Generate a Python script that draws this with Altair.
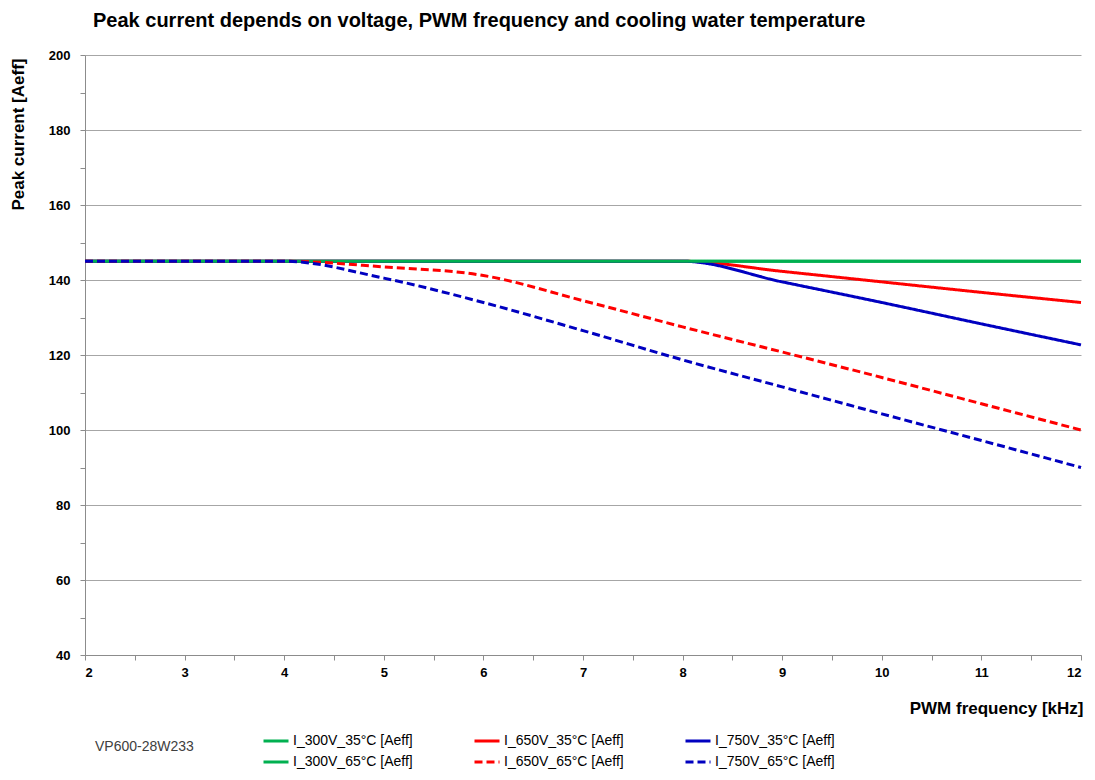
import altair as alt
import pandas as pd

FONT = "Liberation Sans, Arial, sans-serif"

freq = [2, 3, 4, 5, 6, 7, 8, 9, 10, 11, 12]
i_300_35 = [145, 145, 145, 145, 145, 145, 145, 145, 145, 145, 145]
i_650_35 = [145, 145, 145, 145, 145, 145, 145, 142.3, 139.5, 136.7, 134]
i_750_35 = [145, 145, 145, 145, 145, 145, 145, 139.5, 134, 128.3, 122.7]
i_300_65 = [145, 145, 145, 145, 145, 145, 145, 145, 145, 145, 145]
i_650_65 = [145, 145, 145, 143.5, 141.2, 134.5, 127.5, 120.8, 114, 107, 100]
i_750_65 = [145, 145, 145, 140.5, 134, 126.5, 118.7, 111.5, 104.3, 97.2, 90]

series_names = [
    "I_300V_35°C [Aeff]", "I_650V_35°C [Aeff]", "I_750V_35°C [Aeff]",
    "I_300V_65°C [Aeff]", "I_650V_65°C [Aeff]", "I_750V_65°C [Aeff]",
]
series_values = [i_300_35, i_650_35, i_750_35, i_300_65, i_650_65, i_750_65]
series_colors = ["#00B050", "#FF0000", "#0000C0", "#00B050", "#FF0000", "#0000C0"]
series_dashes = [[1, 0], [1, 0], [1, 0], [1, 0], [8, 4], [8, 4]]

x_ticks = [2, 2.5, 3, 3.5, 4, 4.5, 5, 5.5, 6, 6.5, 7, 7.5, 8, 8.5, 9, 9.5, 10, 10.5, 11, 11.5, 12]
y_ticks = [40, 50, 60, 70, 80, 90, 100, 110, 120, 130, 140, 150, 160, 170, 180, 190, 200]

rows = []
for k, (name, vals) in enumerate(zip(series_names, series_values)):
    for f, v in zip(freq, vals):
        rows.append({"freq": f, "current": v, "series": name, "order": k})
df = pd.DataFrame(rows)

W, H = 996, 600

lines = alt.Chart(df).mark_line(strokeWidth=3, interpolate="monotone").encode(
    x=alt.X(
        "freq:Q",
        scale=alt.Scale(domain=[2, 12], nice=False, zero=False),
        axis=alt.Axis(
            values=x_ticks,
            labelExpr="datum.value % 1 == 0 ? format(datum.value, 'd') : ''",
            grid=False,
            tickSize=5,
            tickColor="#8c8c8c",
            domainColor="#8c8c8c",
            labelFont=FONT,
            labelFontWeight="bold",
            labelFontSize=13,
            labelColor="#000000",
            labelPadding=6,
            title="PWM frequency [kHz]",
            titleFont=FONT,
            titleFontSize=17,
            titleFontWeight="bold",
            titleColor="#000000",
            titleAnchor="end",
            titleAlign="right",
            titleBaseline="middle",
            titleX=998,
            titleY=53,
        ),
    ),
    y=alt.Y(
        "current:Q",
        scale=alt.Scale(domain=[40, 200], nice=False, zero=False),
        axis=alt.Axis(
            values=y_ticks,
            labelExpr="datum.value % 20 == 0 ? datum.label : ''",
            grid=True,
            gridColor="#a6a6a6",
            gridWidth=1,
            gridOpacity={"condition": {"test": "datum.value % 20 == 0", "value": 1}, "value": 0},
            tickSize=5,
            tickColor="#8c8c8c",
            domainColor="#8c8c8c",
            labelFont=FONT,
            labelFontWeight="bold",
            labelFontSize=13,
            labelColor="#000000",
            labelPadding=10,
            title="Peak current [Aeff]",
            titleFont=FONT,
            titleFontSize=17,
            titleFontWeight="bold",
            titleColor="#000000",
            titleAngle=-90,
            titleAlign="right",
            titleBaseline="middle",
            titleX=-67,
            titleY=3,
        ),
    ),
    color=alt.Color(
        "series:N",
        scale=alt.Scale(domain=series_names, range=series_colors),
        sort=series_names,
        legend=alt.Legend(
            title=None,
            orient="none",
            legendX=177,
            legendY=672,
            columns=3,
            direction="horizontal",
            symbolType="stroke",
            symbolSize=625,
            symbolStrokeWidth=3,
            labelFont=FONT,
            labelFontSize=14,
            labelColor="#000000",
            labelOffset=3,
            columnPadding=55,
            rowPadding=0,
            labelLimit=300,
        ),
    ),
    strokeDash=alt.StrokeDash(
        "series:N",
        scale=alt.Scale(domain=series_names, range=series_dashes),
        sort=series_names,
    ),
    order=alt.Order("order:Q"),
)

label = alt.Chart(pd.DataFrame({"t": ["VP600-28W233"]})).mark_text(
    align="left", baseline="middle", fontSize=14, font=FONT, color="#404040"
).encode(text="t:N", x=alt.value(10), y=alt.value(692))

chart = alt.layer(lines, label).properties(
    width=W,
    height=H,
    padding={"left": 77, "top": 47, "right": 6, "bottom": 116},
    autosize=alt.AutoSizeParams(type="none"),
    title=alt.TitleParams(
        "Peak current depends on voltage, PWM frequency and cooling water temperature",
        anchor="start",
        frame="group",
        fontSize=20,
        fontWeight="bold",
        font=FONT,
        color="#000000",
        dx=8,
        offset=18,
    ),
).configure_view(stroke=None)

chart.save("out.html", embed_options={"renderer": "svg", "actions": False})
